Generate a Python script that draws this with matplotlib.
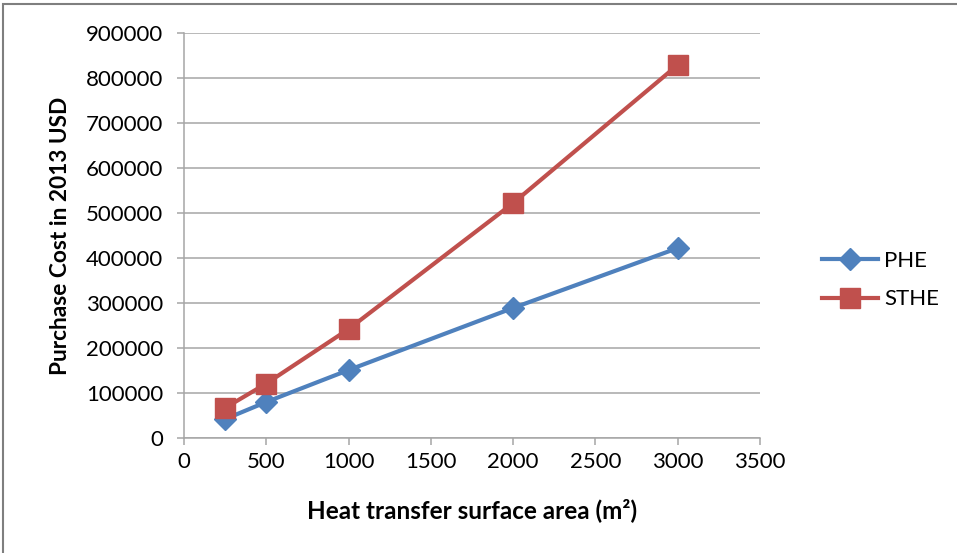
import matplotlib
matplotlib.use("Agg")
from matplotlib import pyplot as plt
from matplotlib.patches import Rectangle

area = [250, 500, 1000, 2000, 3000]
phe_cost = [42000, 80000, 151000, 289000, 422000]
sthe_cost = [67000, 121000, 242000, 522000, 829000]

x_ticks = [0, 500, 1000, 1500, 2000, 2500, 3000, 3500]
y_ticks = [0, 100000, 200000, 300000, 400000, 500000, 600000, 700000, 800000, 900000]

blue = '#4F81BD'
red = '#C0504D'
grid_col = '#A6A6A6'

plt.rcParams['font.family'] = ['Lato', 'DejaVu Sans']

fig = plt.figure(figsize=(9.57, 5.53), dpi=100)
ax = fig.add_axes([184/957, 1 - 438/553, 576/957, 405/553])

ax.plot(area, phe_cost, color=blue, lw=3.0, marker='D', ms=11, label='PHE', zorder=3)
ax.plot(area, sthe_cost, color=red, lw=3.0, marker='s', ms=15, label='STHE', zorder=3)

ax.set_xlim(0, 3500)
ax.set_ylim(0, 900000)
ax.set_xticks(x_ticks)
ax.set_yticks(y_ticks)
ax.set_xticklabels([str(v) for v in x_ticks])
ax.set_yticklabels([str(v) for v in y_ticks])
ax.yaxis.grid(True, color=grid_col, lw=1.1)
ax.set_axisbelow(True)

for s in ['top', 'right']:
    ax.spines[s].set_visible(False)
for s in ['left', 'bottom']:
    ax.spines[s].set_color(grid_col)
    ax.spines[s].set_linewidth(1.1)

ax.tick_params(axis='both', colors=grid_col, labelcolor='#000000', labelsize=16,
               length=5, width=1.1, direction='out')
ax.tick_params(axis='y', pad=10)
ax.tick_params(axis='x', pad=5)

ax.set_xlabel('Heat transfer surface area (m²)', fontsize=17.5, fontweight='bold', labelpad=19)
ax.set_ylabel('Purchase Cost in 2013 USD', fontsize=16.3, fontweight='bold', labelpad=11)

fig.legend(loc='center left', bbox_to_anchor=(822/957, 1 - 280/553), frameon=False,
           fontsize=16, handlelength=2.5, handletextpad=0.3, labelspacing=0.85,
           borderpad=0, borderaxespad=0)

# chart frame (cut off on the right and bottom)
fig.patches.append(Rectangle((3/957, -0.1), 1.2, 1 - 4/553 + 0.1, transform=fig.transFigure,
                             fill=False, edgecolor='#7F7F7F', lw=1.5))

fig.savefig('out.png', dpi=100)
